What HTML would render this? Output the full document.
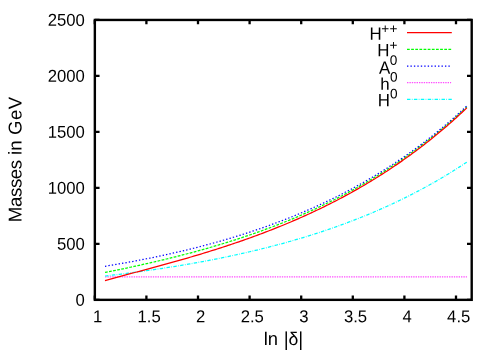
<!DOCTYPE html>
<html><head><meta charset="utf-8"><title>plot</title>
<style>html,body{margin:0;padding:0;background:#fff;}svg{display:block;will-change:transform;}text{font-family:"Liberation Sans",sans-serif;fill:#000;text-rendering:geometricPrecision;}</style></head>
<body>
<svg width="500" height="350" viewBox="0 0 500 350">
<rect x="0" y="0" width="500" height="350" fill="#ffffff"/>
<g stroke="#000" stroke-width="2.30" fill="none" stroke-linecap="butt">
<path d="M94.85 299.85 h4.70 M471.70 299.85 h-4.70"/>
<path d="M94.85 243.87 h4.70 M471.70 243.87 h-4.70"/>
<path d="M94.85 187.89 h4.70 M471.70 187.89 h-4.70"/>
<path d="M94.85 131.91 h4.70 M471.70 131.91 h-4.70"/>
<path d="M94.85 75.93 h4.70 M471.70 75.93 h-4.70"/>
<path d="M94.85 19.95 h4.70 M471.70 19.95 h-4.70"/>
<path d="M94.80 299.85 v-4.40 M94.80 19.95 v4.40"/>
<path d="M146.40 299.85 v-4.40 M146.40 19.95 v4.40"/>
<path d="M198.00 299.85 v-4.40 M198.00 19.95 v4.40"/>
<path d="M249.60 299.85 v-4.40 M249.60 19.95 v4.40"/>
<path d="M301.20 299.85 v-4.40 M301.20 19.95 v4.40"/>
<path d="M352.80 299.85 v-4.40 M352.80 19.95 v4.40"/>
<path d="M404.40 299.85 v-4.40 M404.40 19.95 v4.40"/>
<path d="M456.00 299.85 v-4.40 M456.00 19.95 v4.40"/>
<rect x="94.85" y="19.95" width="376.85" height="279.90" stroke-width="2.40" stroke-linejoin="miter"/>
</g>
<g font-size="16.67">
<text x="0" y="0" text-anchor="end" transform="translate(84.85 305.80) rotate(0.1) scale(1 1.035)">0</text>
<text x="0" y="0" text-anchor="end" transform="translate(84.85 249.82) rotate(0.1) scale(1 1.035)">500</text>
<text x="0" y="0" text-anchor="end" transform="translate(84.85 193.84) rotate(0.1) scale(1 1.035)">1000</text>
<text x="0" y="0" text-anchor="end" transform="translate(84.85 137.86) rotate(0.1) scale(1 1.035)">1500</text>
<text x="0" y="0" text-anchor="end" transform="translate(84.85 81.88) rotate(0.1) scale(1 1.035)">2000</text>
<text x="0" y="0" text-anchor="end" transform="translate(84.85 25.90) rotate(0.1) scale(1 1.035)">2500</text>
<text x="0" y="0" text-anchor="middle" transform="translate(97.50 322.3) rotate(0.1) scale(1 1.035)">1</text>
<text x="0" y="0" text-anchor="middle" transform="translate(149.10 322.3) rotate(0.1) scale(1 1.035)">1.5</text>
<text x="0" y="0" text-anchor="middle" transform="translate(200.70 322.3) rotate(0.1) scale(1 1.035)">2</text>
<text x="0" y="0" text-anchor="middle" transform="translate(252.30 322.3) rotate(0.1) scale(1 1.035)">2.5</text>
<text x="0" y="0" text-anchor="middle" transform="translate(303.90 322.3) rotate(0.1) scale(1 1.035)">3</text>
<text x="0" y="0" text-anchor="middle" transform="translate(355.50 322.3) rotate(0.1) scale(1 1.035)">3.5</text>
<text x="0" y="0" text-anchor="middle" transform="translate(407.10 322.3) rotate(0.1) scale(1 1.035)">4</text>
<text x="0" y="0" text-anchor="middle" transform="translate(458.70 322.3) rotate(0.1) scale(1 1.035)">4.5</text>
<text x="0" y="0" font-size="18.4" transform="translate(263.67 345.1) rotate(0.1)">ln</text>
<text x="0" y="0" font-size="17.6" text-anchor="middle" transform="translate(293.45 345.1) rotate(0.1) scale(1 1.04)">δ</text>
<rect x="285.5" y="331.4" width="1.45" height="18.6" fill="#000"/>
<rect x="300.0" y="331.4" width="1.45" height="18.6" fill="#000"/>
<text transform="translate(21.50 222.25) rotate(-89.9)" font-size="18.6" letter-spacing="-0.33">Masses</text>
<text transform="translate(21.50 155.0) rotate(-89.9)" font-size="18.6">in</text>
<text transform="translate(21.50 135.0) rotate(-89.9)" font-size="18.6" letter-spacing="0.5">GeV</text>
</g>
<g fill="none" stroke-width="1.25" stroke-linecap="butt" stroke-linejoin="round">
<path d="M407.00 49.40 H451.80" stroke="#00ff00" stroke-dasharray="2.76 1.38"/>
<path d="M104.98 272.48 L106.79 272.12 L108.60 271.76 L110.40 271.39 L112.21 271.03 L114.02 270.66 L115.83 270.29 L117.64 269.91 L119.45 269.54 L121.26 269.16 L123.07 268.78 L124.88 268.40 L126.69 268.02 L128.50 267.64 L130.31 267.25 L132.12 266.86 L133.93 266.47 L135.74 266.08 L137.55 265.68 L139.36 265.28 L141.16 264.88 L142.97 264.48 L144.78 264.07 L146.59 263.67 L148.40 263.26 L150.21 262.84 L152.02 262.43 L153.83 262.01 L155.64 261.59 L157.45 261.17 L159.26 260.74 L161.07 260.31 L162.88 259.88 L164.69 259.44 L166.50 259.00 L168.31 258.56 L170.11 258.12 L171.92 257.67 L173.73 257.22 L175.54 256.77 L177.35 256.31 L179.16 255.85 L180.97 255.39 L182.78 254.92 L184.59 254.45 L186.40 253.98 L188.21 253.50 L190.02 253.03 L191.83 252.54 L193.64 252.06 L195.45 251.56 L197.26 251.07 L199.06 250.57 L200.87 250.07 L202.68 249.57 L204.49 249.06 L206.30 248.55 L208.11 248.03 L209.92 247.51 L211.73 246.98 L213.54 246.46 L215.35 245.92 L217.16 245.39 L218.97 244.85 L220.78 244.30 L222.59 243.75 L224.40 243.20 L226.21 242.64 L228.01 242.08 L229.82 241.51 L231.63 240.94 L233.44 240.37 L235.25 239.79 L237.06 239.20 L238.87 238.62 L240.68 238.02 L242.49 237.42 L244.30 236.82 L246.11 236.21 L247.92 235.60 L249.73 234.98 L251.54 234.36 L253.35 233.73 L255.16 233.10 L256.97 232.46 L258.77 231.82 L260.58 231.17 L262.39 230.52 L264.20 229.86 L266.01 229.20 L267.82 228.53 L269.63 227.85 L271.44 227.17 L273.25 226.49 L275.06 225.80 L276.87 225.10 L278.68 224.40 L280.49 223.69 L282.30 222.98 L284.11 222.26 L285.92 221.53 L287.72 220.80 L289.53 220.06 L291.34 219.32 L293.15 218.56 L294.96 217.81 L296.77 217.05 L298.58 216.28 L300.39 215.50 L302.20 214.72 L304.01 213.93 L305.82 213.13 L307.63 212.33 L309.44 211.52 L311.25 210.71 L313.06 209.89 L314.87 209.06 L316.67 208.22 L318.48 207.38 L320.29 206.53 L322.10 205.67 L323.91 204.81 L325.72 203.93 L327.53 203.06 L329.34 202.17 L331.15 201.27 L332.96 200.37 L334.77 199.46 L336.58 198.55 L338.39 197.62 L340.20 196.69 L342.01 195.75 L343.82 194.80 L345.62 193.84 L347.43 192.88 L349.24 191.91 L351.05 190.92 L352.86 189.93 L354.67 188.94 L356.48 187.93 L358.29 186.92 L360.10 185.89 L361.91 184.86 L363.72 183.82 L365.53 182.77 L367.34 181.71 L369.15 180.64 L370.96 179.56 L372.77 178.47 L374.57 177.38 L376.38 176.27 L378.19 175.16 L380.00 174.03 L381.81 172.90 L383.62 171.76 L385.43 170.60 L387.24 169.44 L389.05 168.26 L390.86 167.08 L392.67 165.89 L394.48 164.68 L396.29 163.47 L398.10 162.24 L399.91 161.01 L401.72 159.76 L403.53 158.50 L405.33 157.23 L407.14 155.96 L408.95 154.67 L410.76 153.36 L412.57 152.05 L414.38 150.73 L416.19 149.39 L418.00 148.05 L419.81 146.69 L421.62 145.32 L423.43 143.93 L425.24 142.54 L427.05 141.13 L428.86 139.72 L430.67 138.29 L432.48 136.84 L434.28 135.39 L436.09 133.92 L437.90 132.44 L439.71 130.94 L441.52 129.44 L443.33 127.92 L445.14 126.38 L446.95 124.84 L448.76 123.28 L450.57 121.70 L452.38 120.12 L454.19 118.51 L456.00 116.90 L457.81 115.27 L459.62 113.63 L461.43 111.97 L463.23 110.30 L465.04 108.61 L466.85 106.91" stroke="#00ff00" stroke-dasharray="2.76 1.38"/>
<path d="M407.00 66.05 H451.80" stroke="#0000ff" stroke-dasharray="1.38 2.07"/>
<path d="M104.98 266.26 L106.79 265.97 L108.60 265.67 L110.40 265.37 L112.21 265.06 L114.02 264.76 L115.83 264.45 L117.64 264.14 L119.45 263.82 L121.26 263.50 L123.07 263.18 L124.88 262.86 L126.69 262.54 L128.50 262.21 L130.31 261.88 L132.12 261.54 L133.93 261.20 L135.74 260.86 L137.55 260.52 L139.36 260.17 L141.16 259.83 L142.97 259.47 L144.78 259.12 L146.59 258.76 L148.40 258.40 L150.21 258.03 L152.02 257.66 L153.83 257.29 L155.64 256.92 L157.45 256.54 L159.26 256.16 L161.07 255.77 L162.88 255.39 L164.69 254.99 L166.50 254.60 L168.31 254.20 L170.11 253.80 L171.92 253.39 L173.73 252.98 L175.54 252.57 L177.35 252.16 L179.16 251.74 L180.97 251.31 L182.78 250.88 L184.59 250.45 L186.40 250.02 L188.21 249.58 L190.02 249.14 L191.83 248.69 L193.64 248.24 L195.45 247.79 L197.26 247.33 L199.06 246.86 L200.87 246.40 L202.68 245.93 L204.49 245.45 L206.30 244.97 L208.11 244.49 L209.92 244.00 L211.73 243.51 L213.54 243.01 L215.35 242.51 L217.16 242.01 L218.97 241.50 L220.78 240.99 L222.59 240.47 L224.40 239.95 L226.21 239.42 L228.01 238.89 L229.82 238.35 L231.63 237.81 L233.44 237.26 L235.25 236.71 L237.06 236.15 L238.87 235.59 L240.68 235.03 L242.49 234.46 L244.30 233.88 L246.11 233.30 L247.92 232.71 L249.73 232.12 L251.54 231.53 L253.35 230.93 L255.16 230.32 L256.97 229.71 L258.77 229.09 L260.58 228.47 L262.39 227.84 L264.20 227.20 L266.01 226.56 L267.82 225.92 L269.63 225.27 L271.44 224.61 L273.25 223.95 L275.06 223.28 L276.87 222.61 L278.68 221.93 L280.49 221.24 L282.30 220.55 L284.11 219.85 L285.92 219.14 L287.72 218.43 L289.53 217.72 L291.34 216.99 L293.15 216.26 L294.96 215.53 L296.77 214.79 L298.58 214.04 L300.39 213.28 L302.20 212.52 L304.01 211.75 L305.82 210.97 L307.63 210.19 L309.44 209.40 L311.25 208.61 L313.06 207.80 L314.87 206.99 L316.67 206.17 L318.48 205.35 L320.29 204.52 L322.10 203.68 L323.91 202.83 L325.72 201.98 L327.53 201.12 L329.34 200.25 L331.15 199.37 L332.96 198.48 L334.77 197.59 L336.58 196.69 L338.39 195.78 L340.20 194.87 L342.01 193.94 L343.82 193.01 L345.62 192.07 L347.43 191.12 L349.24 190.16 L351.05 189.20 L352.86 188.22 L354.67 187.24 L356.48 186.25 L358.29 185.25 L360.10 184.24 L361.91 183.22 L363.72 182.19 L365.53 181.16 L367.34 180.11 L369.15 179.06 L370.96 178.00 L372.77 176.92 L374.57 175.84 L376.38 174.75 L378.19 173.65 L380.00 172.54 L381.81 171.41 L383.62 170.28 L385.43 169.14 L387.24 167.99 L389.05 166.83 L390.86 165.66 L392.67 164.48 L394.48 163.29 L396.29 162.08 L398.10 160.87 L399.91 159.65 L401.72 158.41 L403.53 157.17 L405.33 155.91 L407.14 154.64 L408.95 153.36 L410.76 152.08 L412.57 150.77 L414.38 149.46 L416.19 148.14 L418.00 146.80 L419.81 145.45 L421.62 144.09 L423.43 142.72 L425.24 141.34 L427.05 139.94 L428.86 138.54 L430.67 137.12 L432.48 135.68 L434.28 134.24 L436.09 132.78 L437.90 131.31 L439.71 129.82 L441.52 128.33 L443.33 126.82 L445.14 125.29 L446.95 123.76 L448.76 122.21 L450.57 120.64 L452.38 119.06 L454.19 117.47 L456.00 115.87 L457.81 114.25 L459.62 112.61 L461.43 110.96 L463.23 109.30 L465.04 107.62 L466.85 105.93" stroke="#0000ff" stroke-dasharray="1.38 2.07"/>
<path d="M407.00 82.70 H451.80" stroke="#ff00ff" stroke-dasharray="0.69 1.03"/>
<path d="M104.98 276.90 L106.79 276.90 L108.60 276.90 L110.40 276.90 L112.21 276.90 L114.02 276.90 L115.83 276.90 L117.64 276.90 L119.45 276.90 L121.26 276.90 L123.07 276.90 L124.88 276.90 L126.69 276.90 L128.50 276.90 L130.31 276.90 L132.12 276.90 L133.93 276.90 L135.74 276.90 L137.55 276.90 L139.36 276.90 L141.16 276.90 L142.97 276.90 L144.78 276.90 L146.59 276.90 L148.40 276.90 L150.21 276.90 L152.02 276.90 L153.83 276.90 L155.64 276.90 L157.45 276.90 L159.26 276.90 L161.07 276.90 L162.88 276.90 L164.69 276.90 L166.50 276.90 L168.31 276.90 L170.11 276.90 L171.92 276.90 L173.73 276.90 L175.54 276.90 L177.35 276.90 L179.16 276.90 L180.97 276.90 L182.78 276.90 L184.59 276.90 L186.40 276.90 L188.21 276.90 L190.02 276.90 L191.83 276.90 L193.64 276.90 L195.45 276.90 L197.26 276.90 L199.06 276.90 L200.87 276.90 L202.68 276.90 L204.49 276.90 L206.30 276.90 L208.11 276.90 L209.92 276.90 L211.73 276.90 L213.54 276.90 L215.35 276.90 L217.16 276.90 L218.97 276.90 L220.78 276.90 L222.59 276.90 L224.40 276.90 L226.21 276.90 L228.01 276.90 L229.82 276.90 L231.63 276.90 L233.44 276.90 L235.25 276.90 L237.06 276.90 L238.87 276.90 L240.68 276.90 L242.49 276.90 L244.30 276.90 L246.11 276.90 L247.92 276.90 L249.73 276.90 L251.54 276.90 L253.35 276.90 L255.16 276.90 L256.97 276.90 L258.77 276.90 L260.58 276.90 L262.39 276.90 L264.20 276.90 L266.01 276.90 L267.82 276.90 L269.63 276.90 L271.44 276.90 L273.25 276.90 L275.06 276.90 L276.87 276.90 L278.68 276.90 L280.49 276.90 L282.30 276.90 L284.11 276.90 L285.92 276.90 L287.72 276.90 L289.53 276.90 L291.34 276.90 L293.15 276.90 L294.96 276.90 L296.77 276.90 L298.58 276.90 L300.39 276.90 L302.20 276.90 L304.01 276.90 L305.82 276.90 L307.63 276.90 L309.44 276.90 L311.25 276.90 L313.06 276.90 L314.87 276.90 L316.67 276.90 L318.48 276.90 L320.29 276.90 L322.10 276.90 L323.91 276.90 L325.72 276.90 L327.53 276.90 L329.34 276.90 L331.15 276.90 L332.96 276.90 L334.77 276.90 L336.58 276.90 L338.39 276.90 L340.20 276.90 L342.01 276.90 L343.82 276.90 L345.62 276.90 L347.43 276.90 L349.24 276.90 L351.05 276.90 L352.86 276.90 L354.67 276.90 L356.48 276.90 L358.29 276.90 L360.10 276.90 L361.91 276.90 L363.72 276.90 L365.53 276.90 L367.34 276.90 L369.15 276.90 L370.96 276.90 L372.77 276.90 L374.57 276.90 L376.38 276.90 L378.19 276.90 L380.00 276.90 L381.81 276.90 L383.62 276.90 L385.43 276.90 L387.24 276.90 L389.05 276.90 L390.86 276.90 L392.67 276.90 L394.48 276.90 L396.29 276.90 L398.10 276.90 L399.91 276.90 L401.72 276.90 L403.53 276.90 L405.33 276.90 L407.14 276.90 L408.95 276.90 L410.76 276.90 L412.57 276.90 L414.38 276.90 L416.19 276.90 L418.00 276.90 L419.81 276.90 L421.62 276.90 L423.43 276.90 L425.24 276.90 L427.05 276.90 L428.86 276.90 L430.67 276.90 L432.48 276.90 L434.28 276.90 L436.09 276.90 L437.90 276.90 L439.71 276.90 L441.52 276.90 L443.33 276.90 L445.14 276.90 L446.95 276.90 L448.76 276.90 L450.57 276.90 L452.38 276.90 L454.19 276.90 L456.00 276.90 L457.81 276.90 L459.62 276.90 L461.43 276.90 L463.23 276.90 L465.04 276.90 L466.85 276.90" stroke="#ff00ff" stroke-dasharray="0.69 1.03"/>
<path d="M407.00 99.40 H451.80" stroke="#00ffff" stroke-dasharray="3.45 1.38 0.69 1.38"/>
<path d="M104.98 276.00 L106.79 275.79 L108.60 275.58 L110.40 275.36 L112.21 275.15 L114.02 274.93 L115.83 274.71 L117.64 274.49 L119.45 274.26 L121.26 274.04 L123.07 273.81 L124.88 273.58 L126.69 273.35 L128.50 273.12 L130.31 272.88 L132.12 272.64 L133.93 272.41 L135.74 272.16 L137.55 271.92 L139.36 271.67 L141.16 271.43 L142.97 271.18 L144.78 270.92 L146.59 270.67 L148.40 270.41 L150.21 270.15 L152.02 269.89 L153.83 269.63 L155.64 269.36 L157.45 269.09 L159.26 268.82 L161.07 268.55 L162.88 268.27 L164.69 267.99 L166.50 267.71 L168.31 267.43 L170.11 267.15 L171.92 266.86 L173.73 266.57 L175.54 266.27 L177.35 265.98 L179.16 265.68 L180.97 265.38 L182.78 265.08 L184.59 264.77 L186.40 264.46 L188.21 264.15 L190.02 263.84 L191.83 263.52 L193.64 263.20 L195.45 262.88 L197.26 262.55 L199.06 262.22 L200.87 261.89 L202.68 261.56 L204.49 261.22 L206.30 260.88 L208.11 260.54 L209.92 260.19 L211.73 259.84 L213.54 259.49 L215.35 259.13 L217.16 258.77 L218.97 258.41 L220.78 258.05 L222.59 257.68 L224.40 257.31 L226.21 256.93 L228.01 256.56 L229.82 256.17 L231.63 255.79 L233.44 255.40 L235.25 255.01 L237.06 254.62 L238.87 254.22 L240.68 253.82 L242.49 253.41 L244.30 253.00 L246.11 252.59 L247.92 252.17 L249.73 251.75 L251.54 251.33 L253.35 250.90 L255.16 250.47 L256.97 250.04 L258.77 249.60 L260.58 249.16 L262.39 248.71 L264.20 248.26 L266.01 247.80 L267.82 247.35 L269.63 246.88 L271.44 246.42 L273.25 245.95 L275.06 245.47 L276.87 244.99 L278.68 244.51 L280.49 244.02 L282.30 243.53 L284.11 243.04 L285.92 242.54 L287.72 242.03 L289.53 241.52 L291.34 241.01 L293.15 240.49 L294.96 239.97 L296.77 239.44 L298.58 238.91 L300.39 238.37 L302.20 237.83 L304.01 237.28 L305.82 236.73 L307.63 236.18 L309.44 235.62 L311.25 235.05 L313.06 234.48 L314.87 233.91 L316.67 233.32 L318.48 232.74 L320.29 232.15 L322.10 231.55 L323.91 230.95 L325.72 230.34 L327.53 229.73 L329.34 229.11 L331.15 228.49 L332.96 227.86 L334.77 227.23 L336.58 226.59 L338.39 225.95 L340.20 225.29 L342.01 224.64 L343.82 223.98 L345.62 223.31 L347.43 222.63 L349.24 221.95 L351.05 221.27 L352.86 220.58 L354.67 219.88 L356.48 219.17 L358.29 218.46 L360.10 217.75 L361.91 217.02 L363.72 216.30 L365.53 215.56 L367.34 214.82 L369.15 214.07 L370.96 213.31 L372.77 212.55 L374.57 211.78 L376.38 211.01 L378.19 210.22 L380.00 209.44 L381.81 208.64 L383.62 207.84 L385.43 207.03 L387.24 206.21 L389.05 205.38 L390.86 204.55 L392.67 203.71 L394.48 202.87 L396.29 202.01 L398.10 201.15 L399.91 200.28 L401.72 199.41 L403.53 198.52 L405.33 197.63 L407.14 196.73 L408.95 195.82 L410.76 194.91 L412.57 193.98 L414.38 193.05 L416.19 192.11 L418.00 191.16 L419.81 190.20 L421.62 189.24 L423.43 188.26 L425.24 187.28 L427.05 186.29 L428.86 185.29 L430.67 184.28 L432.48 183.26 L434.28 182.24 L436.09 181.20 L437.90 180.16 L439.71 179.10 L441.52 178.04 L443.33 176.97 L445.14 175.89 L446.95 174.79 L448.76 173.69 L450.57 172.58 L452.38 171.46 L454.19 170.33 L456.00 169.19 L457.81 168.04 L459.62 166.88 L461.43 165.71 L463.23 164.53 L465.04 163.34 L466.85 162.13" stroke="#00ffff" stroke-dasharray="3.45 1.38 0.69 1.38"/>
<path d="M407.00 32.70 H451.80" stroke="#ff0000"/>
<path d="M104.98 280.63 L106.79 280.11 L108.60 279.61 L110.40 279.10 L112.21 278.60 L114.02 278.10 L115.83 277.61 L117.64 277.11 L119.45 276.62 L121.26 276.13 L123.07 275.65 L124.88 275.16 L126.69 274.68 L128.50 274.19 L130.31 273.71 L132.12 273.22 L133.93 272.74 L135.74 272.26 L137.55 271.78 L139.36 271.29 L141.16 270.81 L142.97 270.32 L144.78 269.84 L146.59 269.36 L148.40 268.87 L150.21 268.38 L152.02 267.90 L153.83 267.41 L155.64 266.92 L157.45 266.43 L159.26 265.93 L161.07 265.44 L162.88 264.94 L164.69 264.45 L166.50 263.95 L168.31 263.45 L170.11 262.94 L171.92 262.44 L173.73 261.93 L175.54 261.42 L177.35 260.91 L179.16 260.40 L180.97 259.88 L182.78 259.36 L184.59 258.84 L186.40 258.32 L188.21 257.80 L190.02 257.27 L191.83 256.74 L193.64 256.20 L195.45 255.67 L197.26 255.13 L199.06 254.59 L200.87 254.04 L202.68 253.49 L204.49 252.94 L206.30 252.39 L208.11 251.83 L209.92 251.27 L211.73 250.70 L213.54 250.13 L215.35 249.56 L217.16 248.99 L218.97 248.41 L220.78 247.83 L222.59 247.24 L224.40 246.65 L226.21 246.06 L228.01 245.46 L229.82 244.86 L231.63 244.26 L233.44 243.65 L235.25 243.03 L237.06 242.42 L238.87 241.80 L240.68 241.17 L242.49 240.54 L244.30 239.91 L246.11 239.27 L247.92 238.62 L249.73 237.98 L251.54 237.32 L253.35 236.67 L255.16 236.01 L256.97 235.34 L258.77 234.67 L260.58 233.99 L262.39 233.31 L264.20 232.63 L266.01 231.94 L267.82 231.24 L269.63 230.54 L271.44 229.83 L273.25 229.12 L275.06 228.40 L276.87 227.68 L278.68 226.95 L280.49 226.22 L282.30 225.48 L284.11 224.74 L285.92 223.99 L287.72 223.23 L289.53 222.47 L291.34 221.71 L293.15 220.93 L294.96 220.15 L296.77 219.37 L298.58 218.58 L300.39 217.78 L302.20 216.98 L304.01 216.17 L305.82 215.35 L307.63 214.53 L309.44 213.70 L311.25 212.86 L313.06 212.02 L314.87 211.17 L316.67 210.31 L318.48 209.45 L320.29 208.58 L322.10 207.71 L323.91 206.82 L325.72 205.93 L327.53 205.03 L329.34 204.13 L331.15 203.22 L332.96 202.30 L334.77 201.37 L336.58 200.44 L338.39 199.49 L340.20 198.54 L342.01 197.59 L343.82 196.62 L345.62 195.65 L347.43 194.67 L349.24 193.68 L351.05 192.68 L352.86 191.67 L354.67 190.66 L356.48 189.64 L358.29 188.61 L360.10 187.57 L361.91 186.52 L363.72 185.46 L365.53 184.40 L367.34 183.32 L369.15 182.24 L370.96 181.15 L372.77 180.05 L374.57 178.94 L376.38 177.82 L378.19 176.69 L380.00 175.55 L381.81 174.40 L383.62 173.24 L385.43 172.08 L387.24 170.90 L389.05 169.71 L390.86 168.52 L392.67 167.31 L394.48 166.09 L396.29 164.86 L398.10 163.63 L399.91 162.38 L401.72 161.12 L403.53 159.85 L405.33 158.57 L407.14 157.28 L408.95 155.98 L410.76 154.66 L412.57 153.34 L414.38 152.00 L416.19 150.66 L418.00 149.30 L419.81 147.93 L421.62 146.55 L423.43 145.16 L425.24 143.75 L427.05 142.33 L428.86 140.90 L430.67 139.46 L432.48 138.01 L434.28 136.54 L436.09 135.06 L437.90 133.57 L439.71 132.07 L441.52 130.55 L443.33 129.02 L445.14 127.48 L446.95 125.92 L448.76 124.35 L450.57 122.77 L452.38 121.17 L454.19 119.56 L456.00 117.94 L457.81 116.30 L459.62 114.65 L461.43 112.98 L463.23 111.30 L465.04 109.61 L466.85 107.90" stroke="#ff0000"/>
</g>
<g>
<text x="0" y="0" font-size="16.90" transform="translate(369.39 39.67) rotate(0.1) scale(1 1.050)">H</text>
<text x="0" y="0" font-size="13.60" transform="translate(381.23 33.17) rotate(0.1) scale(1 1.000)">+</text>
<text x="0" y="0" font-size="13.60" transform="translate(389.48 33.17) rotate(0.1) scale(1 1.000)">+</text>
<text x="0" y="0" font-size="16.90" transform="translate(377.29 56.37) rotate(0.1) scale(1 1.050)">H</text>
<text x="0" y="0" font-size="13.60" transform="translate(389.48 49.87) rotate(0.1) scale(1 1.000)">+</text>
<text x="0" y="0" font-size="16.90" transform="translate(379.01 73.72) rotate(0.1) scale(1 1.050)">A</text>
<text x="0" y="0" font-size="13.60" transform="translate(389.82 64.87) rotate(0.1) scale(1 1.000)">0</text>
<text x="0" y="0" font-size="16.90" transform="translate(380.16 89.67) rotate(0.1) scale(1 1.000)">h</text>
<text x="0" y="0" font-size="13.60" transform="translate(389.97 81.52) rotate(0.1) scale(1 1.000)">0</text>
<text x="0" y="0" font-size="16.90" transform="translate(377.74 106.37) rotate(0.1) scale(1 1.050)">H</text>
<text x="0" y="0" font-size="13.60" transform="translate(389.97 98.22) rotate(0.1) scale(1 1.000)">0</text>
</g>
</svg></body></html>
